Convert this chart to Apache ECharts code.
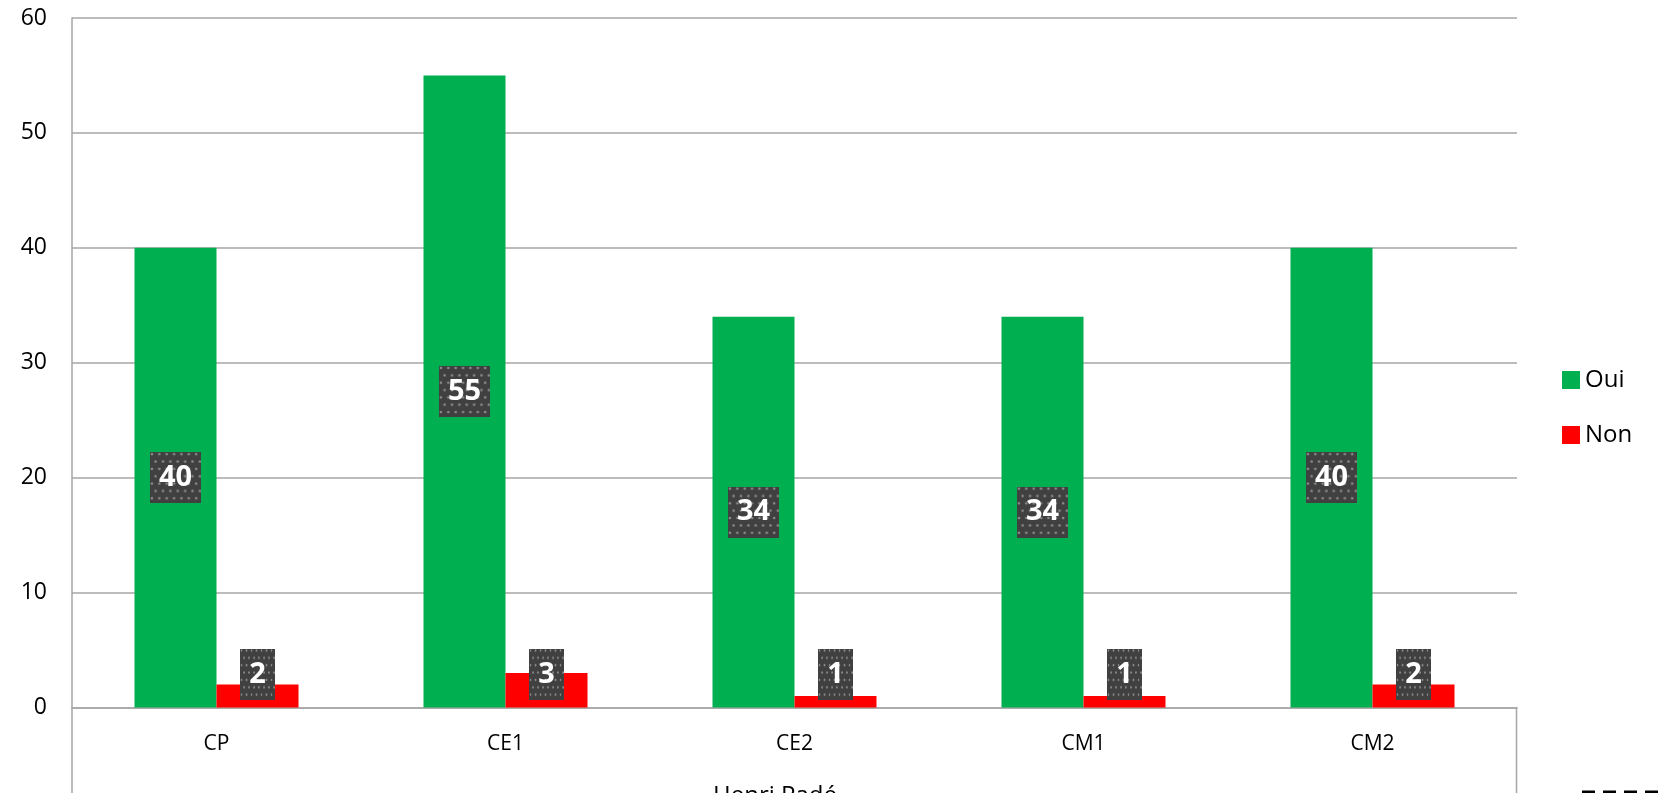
<!DOCTYPE html>
<html>
<head>
<meta charset="utf-8">
<title>Oui / Non</title>
<script src="https://cdn.jsdelivr.net/npm/echarts@6/dist/echarts.min.js"></script>
<style>
  html, body { margin: 0; padding: 0; background: #fff; }
  #chart { width: 1663px; height: 793px; }
</style>
</head>
<body>
<div id="chart"></div>
<script>
const categories = ['CP', 'CE1', 'CE2', 'CM1', 'CM2']
const ouiValues = [40, 55, 34, 34, 40]
const nonValues = [2, 3, 1, 1, 2]
const yTicks = [0, 60, 10] // min, max, interval

// petit motif pointillé pour le fond des étiquettes
function dotPattern() {
  const c = document.createElement('canvas')
  c.width = 52
  c.height = 52
  const ctx = c.getContext('2d')
  ctx.fillStyle = '#404040'
  ctx.fillRect(0, 0, 52, 52)
  ctx.fillStyle = '#8e8e8e'
  for (let row = 0; row < 8; row++) {
    for (let col = 0; col < 8; col++) {
      const x = col * 7.5 + (row % 2 ? 3.75 : 0) + 2
      const y = row * 7.5 + 2
      ctx.beginPath()
      ctx.arc(x, y, 1.3, 0, Math.PI * 2)
      ctx.fill()
    }
  }
  return c
}
const pattern = dotPattern()

const labelStyle = {
  show: true,
  color: '#fff',
  fontFamily: 'Open Sans',
  fontWeight: 'bold',
  fontSize: 29,
  lineHeight: 30,
  padding: [11, 9, 10, 9],
  backgroundColor: { image: pattern }
}

const chart = echarts.init(document.getElementById('chart'))
const option = {
  animation: false,
  grid: {
    left: 72,
    top: 18,
    right: 146,
    bottom: 85.5
  },
  legend: {
    orient: 'vertical',
    left: 1557,
    top: 363,
    itemWidth: 18,
    itemHeight: 18,
    itemGap: 31,
    icon: 'rect',
    textStyle: { fontFamily: 'Open Sans', fontSize: 24, color: '#000', padding: [0, 0, 0, 0] },
    data: ['Oui', 'Non']
  },
  xAxis: {
    type: 'category',
    data: categories,
    axisTick: { show: false },
    axisLine: { lineStyle: { color: '#a6a6a6', width: 1.5 } },
    axisLabel: { fontFamily: 'Open Sans', fontSize: 21, color: '#000', margin: 26 }
  },
  yAxis: {
    type: 'value',
    min: yTicks[0],
    max: yTicks[1],
    interval: yTicks[2],
    axisLine: { show: true, lineStyle: { color: '#a6a6a6', width: 1.5 } },
    axisLabel: { fontFamily: 'Open Sans', fontSize: 23, color: '#000', margin: 25 },
    splitLine: { lineStyle: { color: '#a6a6a6', width: 1.5 } }
  },
  series: [
    {
      name: 'Oui',
      type: 'bar',
      data: ouiValues,
      barWidth: 82,
      barGap: '0%',
      itemStyle: { color: '#00b050' },
      label: Object.assign({ position: 'inside' }, labelStyle)
    },
    {
      name: 'Non',
      type: 'bar',
      data: nonValues,
      barWidth: 82,
      itemStyle: { color: '#ff0000' },
      label: Object.assign({ position: 'insideBottom', distance: 8 }, labelStyle)
    }
  ],
  graphic: [
    // prolongement du cadre sous l'axe des abscisses
    { type: 'line', shape: { x1: 72, y1: 707, x2: 72, y2: 793 }, style: { stroke: '#a6a6a6', lineWidth: 1.5 } },
    { type: 'line', shape: { x1: 1516.5, y1: 707, x2: 1516.5, y2: 793 }, style: { stroke: '#a6a6a6', lineWidth: 1.5 } },
    // titre de l'axe (coupé en bas)
    { type: 'text', left: 713, top: 784, style: { text: 'Henri Padé', fontFamily: 'Open Sans', fontSize: 24, fill: '#000' } },
    { type: 'line', shape: { x1: 1582, y1: 792, x2: 1663, y2: 792 }, style: { stroke: '#000', lineWidth: 3, lineDash: [13, 8] } }
  ]
}
chart.setOption(option)
</script>
</body>
</html>
